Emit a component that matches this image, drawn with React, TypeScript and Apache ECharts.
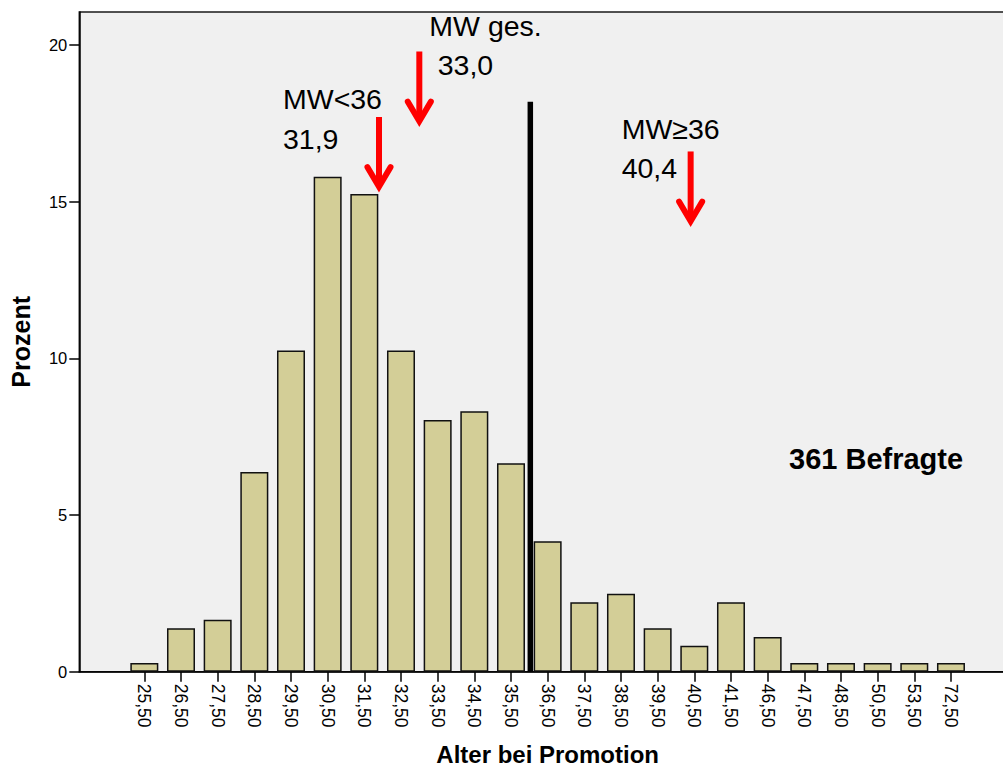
import React, { useEffect, useRef } from "react";
import * as echarts from "echarts";

// ---- data ----
const categories = [
  "25,50", "26,50", "27,50", "28,50", "29,50", "30,50", "31,50", "32,50",
  "33,50", "34,50", "35,50", "36,50", "37,50", "38,50", "39,50", "40,50",
  "41,50", "46,50", "47,50", "48,50", "50,50", "53,50", "72,50",
];
const percentValues = [
  0.28, 1.39, 1.66, 6.37, 10.25, 15.79, 15.24, 10.25,
  8.03, 8.31, 6.65, 4.16, 2.22, 2.49, 1.39, 0.83,
  2.22, 1.11, 0.28, 0.28, 0.28, 0.28, 0.28,
];
const yTicks = [0, 5, 10, 15, 20];
const meanLabels = ["MW<36", "MW ges.", "MW≥36"];
const meanValues = [31.9, 33.0, 40.4];
const splitAge = 36;
const respondents = 361;

// ---- layout (annotation placement, in value units / pixels) ----
const yMax = 21.05;
const splitLineTop = 18.19;
const arrowTops = [17.7, 19.79, 16.6];
const arrowLength = 2.4;
const labelOffsets = [
  { dx1: -96, dy1: -17.5, dx2: -96, dy2: 22.5 },
  { dx1: 10, dy1: -25.2, dx2: 18.4, dy2: 13.8 },
  { dx1: -69, dy1: -22.2, dx2: -69, dy2: 16.8 },
];

const FONT = "'Liberation Sans', Arial, Helvetica, sans-serif";

const binAges = categories.map((c) => parseFloat(c.replace(",", ".")));
function ageToIndex(age: number): number {
  for (let i = 0; i < binAges.length - 1; i++) {
    if (age >= binAges[i] && age <= binAges[i + 1]) {
      return i + (age - binAges[i]) / (binAges[i + 1] - binAges[i]);
    }
  }
  return 0;
}
function xPixel(api: any, idx: number, y: number): number {
  const i0 = Math.floor(idx);
  const frac = idx - i0;
  const p0 = api.coord([i0, y]);
  const p1 = api.coord([i0 + 1, y]);
  return p0[0] + frac * (p1[0] - p0[0]);
}
const fmt = (v: number) => v.toFixed(1).replace(".", ",");

export default function App() {
  const ref = useRef<HTMLDivElement>(null);
  useEffect(() => {
    document.body.style.margin = "0";
    document.body.style.overflow = "hidden";
    const chart = echarts.init(ref.current!, null, { renderer: "svg" });
    const option: any = {
      animation: false,
      backgroundColor: "#ffffff",
      textStyle: { fontFamily: FONT },
      grid: [
        {
          left: 79.3, top: 12, width: 950, height: 659.7,
          show: true, backgroundColor: "#f0f0f0", borderColor: "#1a1a1a", borderWidth: 1.5,
          outerBoundsMode: "none", containLabel: false,
        },
        {
          left: 126, top: 12, width: 843.3, height: 659.7,
          outerBoundsMode: "none", containLabel: false,
        },
      ],
      xAxis: [
        {
          gridIndex: 0, type: "value", min: 0, max: 1,
          axisLine: { show: true, lineStyle: { color: "#000", width: 1.5 } },
          axisTick: { show: false }, axisLabel: { show: false }, splitLine: { show: false },
        },
        {
          gridIndex: 1, type: "category", data: categories,
          axisLine: { show: false },
          axisTick: { show: true, alignWithLabel: true, length: 10, lineStyle: { color: "#000", width: 1.5 } },
          axisLabel: { interval: 0, rotate: -90, fontSize: 17.5, color: "#000", margin: 12, fontFamily: FONT },
          splitLine: { show: false },
          name: "Alter bei Promotion", nameLocation: "middle", nameGap: 73,
          nameMoveOverlap: false,
          nameTextStyle: { fontSize: 24, lineHeight: 19, fontWeight: "bold", color: "#000", fontFamily: FONT },
        },
      ],
      yAxis: [
        {
          gridIndex: 0, type: "value", min: 0, max: yMax,
          axisLine: { show: true, lineStyle: { color: "#000", width: 1.5 } },
          axisTick: { show: true, length: 10, customValues: yTicks, lineStyle: { color: "#000", width: 1.5 } },
          axisLabel: { customValues: yTicks, fontSize: 16.5, color: "#000", margin: 12, fontFamily: FONT },
          splitLine: { show: false },
          name: "Prozent", nameLocation: "middle", nameRotate: 90, nameGap: 46,
          nameMoveOverlap: false,
          nameTextStyle: { fontSize: 25, fontWeight: "bold", color: "#000", fontFamily: FONT },
        },
        { gridIndex: 1, type: "value", min: 0, max: yMax, show: false },
      ],
      series: [
        {
          type: "bar", xAxisIndex: 1, yAxisIndex: 1, data: percentValues, barWidth: 28,
          itemStyle: { color: "#d3ce97", borderColor: "#111", borderWidth: 1.5 },
        },
        {
          type: "custom", xAxisIndex: 1, yAxisIndex: 1, data: [[0, splitLineTop]], z: 5,
          renderItem: (params: any, api: any) => {
            const x = xPixel(api, ageToIndex(splitAge), 0);
            const yTop = api.coord([0, splitLineTop])[1];
            const yBot = api.coord([0, 0])[1];
            return {
              type: "line",
              shape: { x1: x + 1, y1: yTop, x2: x + 1, y2: yBot },
              style: { stroke: "#000", lineWidth: 5.5 },
            };
          },
        },
        {
          type: "custom", xAxisIndex: 1, yAxisIndex: 1,
          data: meanValues.map((v, i) => [i, arrowTops[i]]), z: 6,
          renderItem: (params: any, api: any) => {
            const i = params.dataIndex;
            const idx = ageToIndex(meanValues[i]);
            const x = xPixel(api, idx, 0);
            const yTop = api.coord([0, arrowTops[i]])[1];
            const yTip = api.coord([0, arrowTops[i] - arrowLength])[1];
            const off = labelOffsets[i];
            return {
              type: "group",
              children: [
                {
                  type: "line",
                  shape: { x1: x, y1: yTop, x2: x, y2: yTip - 6 },
                  style: { stroke: "#ff0000", lineWidth: 6 },
                },
                {
                  type: "polyline",
                  shape: { points: [[x - 11.5, yTip - 25], [x, yTip - 5.5], [x + 11.5, yTip - 25]] },
                  style: { stroke: "#ff0000", lineWidth: 6, fill: null, lineJoin: "miter", lineCap: "round" },
                },
                {
                  type: "text", x: x + off.dx1, y: yTop + off.dy1,
                  style: { text: meanLabels[i], fontSize: 28.5, fontFamily: FONT, fill: "#000", align: "left", verticalAlign: "middle" },
                },
                {
                  type: "text", x: x + off.dx2, y: yTop + off.dy2,
                  style: { text: fmt(meanValues[i]), fontSize: 28.5, fontFamily: FONT, fill: "#000", align: "left", verticalAlign: "middle" },
                },
              ],
            };
          },
        },
      ],
      graphic: [
        {
          type: "text", left: 789, top: 444,
          style: { text: `${respondents} Befragte`, fontSize: 29, fontWeight: "bold", fontFamily: FONT, fill: "#000" },
        },
      ],
    };
    chart.setOption(option);
    return () => chart.dispose();
  }, []);
  return <div ref={ref} style={{ width: 1003, height: 767 }} />;
}
